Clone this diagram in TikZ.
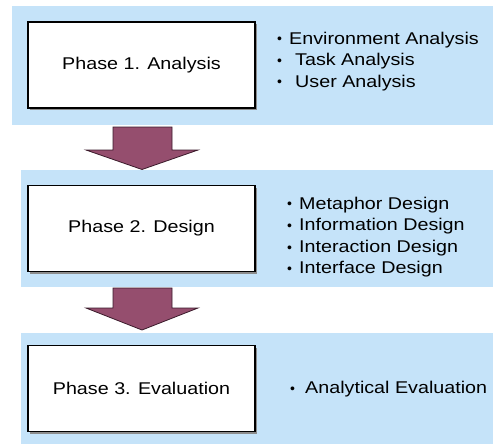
\documentclass[tikz,border=0pt]{standalone}
\usepackage{fontspec}
\usepackage{graphicx}
\setmainfont{Liberation Sans}
\definecolor{bandblue}{HTML}{C5E3F9}
\definecolor{plum}{HTML}{954E6E}
\definecolor{plumline}{HTML}{3A1A2A}
\newcommand\hs[1]{\scalebox{1.16}[1]{#1}}
\newcommand\blt{\raisebox{0.3pt}{\fontsize{14}{14}\selectfont •}}
\newcommand\bitem[2]{\makebox[#1][l]{\blt}\hs{#2}}
\tikzset{
  band/.style={fill=bandblue, draw=none},
  phasebox/.style={draw=black, line width=1.3pt, fill=white, minimum width=227pt, minimum height=86pt, inner sep=0pt, font=\fontsize{17}{20}\selectfont},
  shadowbox/.style={fill=black!45, draw=none, minimum width=227pt, minimum height=86pt, inner sep=0pt},
  item/.style={anchor=base west, inner sep=0pt, font=\fontsize{17}{20}\selectfont},
  blockarrow/.style={fill=plum, draw=plumline, line width=0.8pt, line join=miter}
}
\begin{document}
\begin{tikzpicture}[x=1pt,y=-1pt]
\useasboundingbox (0,0) rectangle (493,444);
% bands
\fill[band] (12,6) rectangle (493,125);
\fill[band] (21,170) rectangle (493,287);
\fill[band] (21,333) rectangle (493,444);
% arrows
\draw[blockarrow] (113,127) -- (172,127) -- (172,150) -- (198,150) -- (142,169.5) -- (86,150) -- (113,150) -- cycle;
\draw[blockarrow] (113,288) -- (172,288) -- (172,308) -- (198,308) -- (142,330) -- (86,308) -- (113,308) -- cycle;
% phase boxes
\node[shadowbox] (s1) at (143.5,67) {};
\node[phasebox] (p1) at (141.5,65) {\hs{Phase 1. Analysis}};
\node[shadowbox] (s2) at (143.5,230.5) {};
\node[phasebox] (p2) at (141.5,228.5) {\hs{Phase 2. Design}};
\node[shadowbox] (s3) at (143.5,390.5) {};
\node[phasebox] (p3) at (141.5,388.5) {\hs{Phase 3. Evaluation}};
% items
\node[item] (a1) at (277,44.3) {\bitem{12pt}{Environment Analysis}};
\node[item] (a2) at (277,65.7) {\bitem{18pt}{Task Analysis}};
\node[item] (a3) at (277,87.3) {\bitem{18pt}{User Analysis}};
\node[item] (d1) at (287,209) {\bitem{12pt}{Metaphor Design}};
\node[item] (d2) at (287,230.7) {\bitem{12pt}{Information Design}};
\node[item] (d3) at (287,252.7) {\bitem{12pt}{Interaction Design}};
\node[item] (d4) at (287,273.3) {\bitem{12pt}{Interface Design}};
\node[item] (e1) at (290,393.3) {\bitem{15pt}{Analytical Evaluation}};
\end{tikzpicture}
\end{document}
